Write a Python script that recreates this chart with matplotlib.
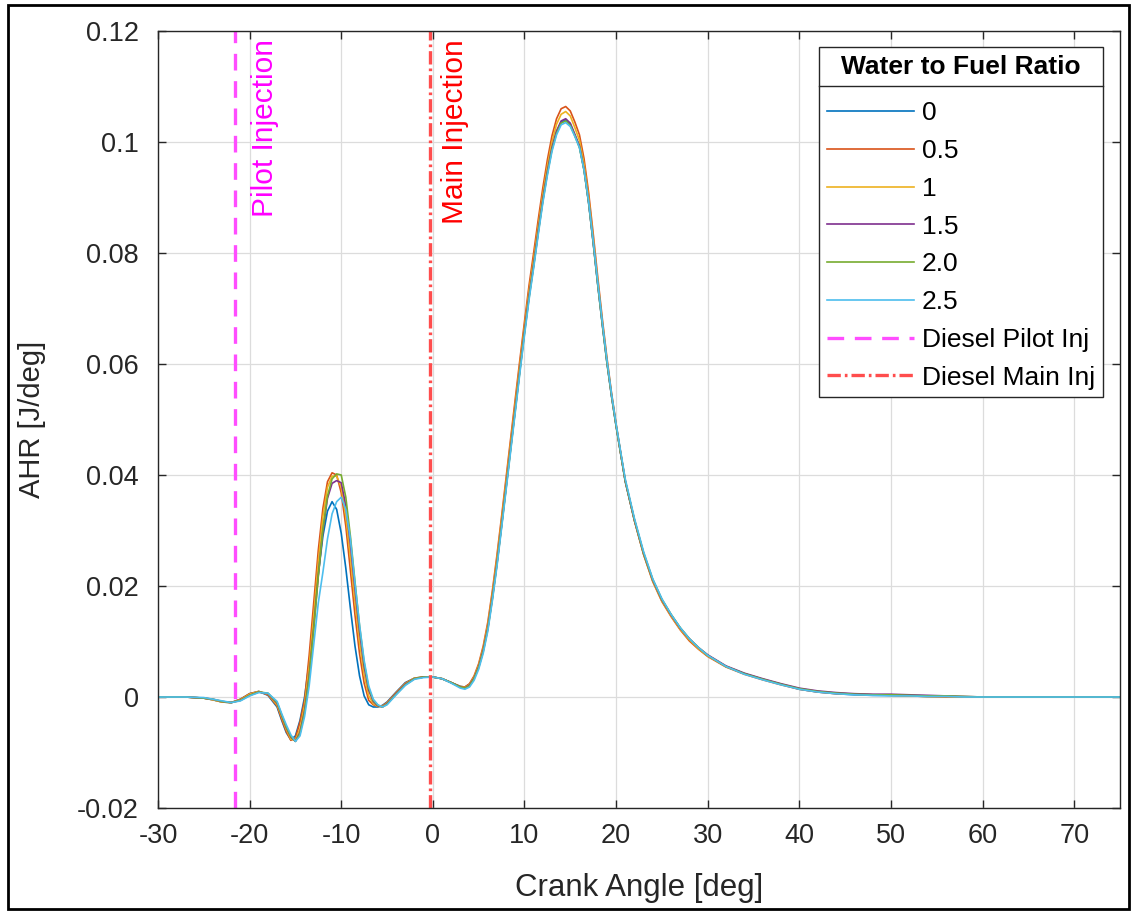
import numpy as np
import matplotlib
matplotlib.use("Agg")
import matplotlib.pyplot as plt
from matplotlib.lines import Line2D
from matplotlib.patches import Rectangle
from matplotlib.ticker import FormatStrFormatter

plt.rcParams['font.family'] = ['Liberation Sans', 'DejaVu Sans']
plt.rcParams['axes.unicode_minus'] = False

# crank angle grid shared by all curves [deg]
crank = [-30, -27, -25, -24, -23, -22, -21, -20, -19, -18, -17,
         -16.5, -16, -15.5, -15, -14.5, -14, -13.5, -13, -12.5, -12, -11.5, -11,
         -10.5, -10, -9.5, -9, -8.5, -8, -7.5, -7, -6.5, -6, -5.5, -5,
         -4, -3, -2, -1, 0, 1, 2, 3, 3.5, 4,
         4.5, 5, 5.5, 6, 6.5, 7, 7.5, 8, 8.5, 9, 9.5, 10, 10.5, 11, 11.5, 12,
         12.5, 13, 13.5, 14, 14.5, 15, 15.5, 16, 16.5, 17, 17.5, 18, 18.5, 19,
         19.5, 20, 20.5, 21,
         22, 23, 24, 25, 26, 27, 28, 29, 30,
         32, 34, 36, 38, 40, 42, 44, 46, 48, 50, 52, 54, 56, 58, 60, 75]

# apparent heat release [J/deg] for each water to fuel ratio
ahr_0 = [0, 0, -0.0002, -0.0005, -0.0009, -0.0010, -0.0004, 0.0006, 0.0010, 0.0003, -0.0018,
         -0.0042, -0.0064, -0.0077, -0.0070, -0.0042, 0.0000, 0.0062, 0.0140, 0.0222, 0.0290, 0.0335, 0.0352,
         0.0338, 0.0295, 0.0232, 0.0160, 0.0092, 0.0038, 0.0002, -0.0014, -0.0018, -0.0018, -0.0015, -0.0009,
         0.0009, 0.0026, 0.0034, 0.0036, 0.0036, 0.0033, 0.0026, 0.0019, 0.0018, 0.0023,
         0.0035, 0.0055, 0.0085, 0.0125, 0.0180, 0.0242, 0.0310, 0.0380, 0.0450, 0.0520, 0.0590, 0.0658,
         0.0722, 0.0778, 0.0838, 0.0895, 0.0945, 0.0988, 0.1018, 0.1036, 0.1040, 0.1032, 0.1012, 0.0992,
         0.0950, 0.0890, 0.0818, 0.0742, 0.0670, 0.0602, 0.0542, 0.0488, 0.0438, 0.0388,
         0.0318, 0.0258, 0.0210, 0.0175, 0.0148, 0.0124, 0.0104, 0.0088, 0.0075,
         0.0055, 0.0042, 0.0032, 0.0023, 0.0014, 0.0009, 0.0006, 0.0004, 0.0003, 0.0003, 0.0002, 0.0001,
         0.0001, 0, 0, 0]
ahr_05 = [0, 0, -0.0002, -0.0005, -0.0009, -0.0010, -0.0004, 0.0006, 0.0010, 0.0004, -0.0016,
          -0.0040, -0.0062, -0.0078, -0.0074, -0.0045, -0.0006, 0.0075, 0.0170, 0.0265, 0.0340, 0.0388, 0.0404,
          0.0400, 0.0368, 0.0308, 0.0228, 0.0148, 0.0078, 0.0025, -0.0006, -0.0014, -0.0017, -0.0016, -0.0010,
          0.0008, 0.0025, 0.0034, 0.0036, 0.0036, 0.0033, 0.0026, 0.0019, 0.0018, 0.0024,
          0.0038, 0.0060, 0.0092, 0.0135, 0.0192, 0.0256, 0.0325, 0.0396, 0.0467, 0.0538, 0.0608, 0.0676,
          0.0742, 0.0800, 0.0860, 0.0917, 0.0968, 0.1011, 0.1042, 0.1060, 0.1064, 0.1056, 0.1036, 0.1013,
          0.0970, 0.0909, 0.0835, 0.0756, 0.0681, 0.0611, 0.0548, 0.0492, 0.0440, 0.0390,
          0.0318, 0.0257, 0.0208, 0.0172, 0.0145, 0.0121, 0.0101, 0.0086, 0.0073,
          0.0054, 0.0041, 0.0031, 0.0022, 0.0014, 0.0009, 0.0006, 0.0005, 0.0004, 0.0003, 0.0002, 0.0001,
          0, 0, 0, 0]
ahr_1 = [0, 0, -0.0002, -0.0005, -0.0009, -0.0010, -0.0005, 0.0005, 0.0010, 0.0005, -0.0014,
         -0.0036, -0.0058, -0.0076, -0.0078, -0.0057, -0.0015, 0.0055, 0.0148, 0.0245, 0.0325, 0.0378, 0.0398,
         0.0398, 0.0378, 0.0325, 0.0252, 0.0172, 0.0098, 0.0040, 0.0002, -0.0012, -0.0017, -0.0017, -0.0011,
         0.0007, 0.0024, 0.0034, 0.0036, 0.0036, 0.0033, 0.0026, 0.0018, 0.0017, 0.0022,
         0.0036, 0.0057, 0.0088, 0.0130, 0.0186, 0.0249, 0.0318, 0.0388, 0.0459, 0.0529, 0.0599, 0.0667,
         0.0732, 0.0789, 0.0849, 0.0906, 0.0957, 0.1000, 0.1032, 0.1050, 0.1055, 0.1047, 0.1026, 0.1003,
         0.0960, 0.0900, 0.0827, 0.0749, 0.0676, 0.0607, 0.0545, 0.0490, 0.0439, 0.0389,
         0.0318, 0.0257, 0.0209, 0.0173, 0.0146, 0.0122, 0.0103, 0.0087, 0.0074,
         0.0055, 0.0042, 0.0032, 0.0023, 0.0015, 0.0010, 0.0007, 0.0005, 0.0004, 0.0003, 0.0002, 0.0001,
         0.0001, 0, 0, 0]
ahr_15 = [0, 0, -0.0002, -0.0004, -0.0008, -0.0010, -0.0006, 0.0003, 0.0009, 0.0006, -0.0011,
          -0.0033, -0.0055, -0.0072, -0.0080, -0.0064, -0.0025, 0.0038, 0.0125, 0.0220, 0.0300, 0.0358, 0.0385,
          0.0390, 0.0386, 0.0345, 0.0275, 0.0195, 0.0118, 0.0055, 0.0012, -0.0008, -0.0016, -0.0018, -0.0012,
          0.0006, 0.0023, 0.0033, 0.0036, 0.0036, 0.0033, 0.0026, 0.0018, 0.0016, 0.0021,
          0.0034, 0.0054, 0.0084, 0.0124, 0.0179, 0.0241, 0.0309, 0.0379, 0.0450, 0.0520, 0.0590, 0.0659,
          0.0723, 0.0780, 0.0840, 0.0897, 0.0947, 0.0990, 0.1020, 0.1038, 0.1042, 0.1034, 0.1014, 0.0993,
          0.0951, 0.0892, 0.0820, 0.0744, 0.0672, 0.0604, 0.0543, 0.0489, 0.0439, 0.0389,
          0.0319, 0.0259, 0.0211, 0.0175, 0.0148, 0.0124, 0.0105, 0.0089, 0.0076,
          0.0056, 0.0043, 0.0033, 0.0024, 0.0016, 0.0011, 0.0008, 0.0006, 0.0005, 0.0005, 0.0004, 0.0003,
          0.0002, 0.0001, 0, 0]
ahr_20 = [0, 0, -0.0002, -0.0004, -0.0008, -0.0010, -0.0006, 0.0003, 0.0009, 0.0007, -0.0010,
          -0.0032, -0.0054, -0.0071, -0.0080, -0.0066, -0.0028, 0.0035, 0.0122, 0.0218, 0.0302, 0.0362, 0.0393,
          0.0402, 0.0400, 0.0360, 0.0290, 0.0208, 0.0128, 0.0062, 0.0016, -0.0006, -0.0015, -0.0018, -0.0013,
          0.0005, 0.0022, 0.0033, 0.0036, 0.0036, 0.0033, 0.0026, 0.0018, 0.0016, 0.0020,
          0.0033, 0.0053, 0.0082, 0.0122, 0.0177, 0.0239, 0.0307, 0.0377, 0.0447, 0.0517, 0.0587, 0.0655,
          0.0719, 0.0776, 0.0836, 0.0893, 0.0943, 0.0986, 0.1016, 0.1034, 0.1038, 0.1030, 0.1011, 0.0990,
          0.0949, 0.0891, 0.0819, 0.0743, 0.0671, 0.0603, 0.0543, 0.0489, 0.0439, 0.0390,
          0.0320, 0.0260, 0.0212, 0.0176, 0.0149, 0.0125, 0.0105, 0.0089, 0.0075,
          0.0055, 0.0042, 0.0032, 0.0023, 0.0015, 0.0010, 0.0007, 0.0005, 0.0004, 0.0004, 0.0003, 0.0002,
          0.0002, 0.0001, 0, 0]
ahr_25 = [0, 0, -0.0001, -0.0004, -0.0007, -0.0010, -0.0007, 0.0002, 0.0008, 0.0007, -0.0008,
          -0.0030, -0.0050, -0.0068, -0.0080, -0.0070, -0.0035, 0.0020, 0.0095, 0.0170, 0.0225, 0.0285, 0.0330,
          0.0352, 0.0360, 0.0338, 0.0285, 0.0205, 0.0130, 0.0066, 0.0020, -0.0004, -0.0014, -0.0018, -0.0014,
          0.0004, 0.0021, 0.0032, 0.0035, 0.0036, 0.0033, 0.0025, 0.0016, 0.0014, 0.0018,
          0.0030, 0.0050, 0.0079, 0.0119, 0.0174, 0.0236, 0.0304, 0.0374, 0.0444, 0.0514, 0.0584, 0.0652,
          0.0716, 0.0773, 0.0833, 0.0890, 0.0940, 0.0983, 0.1013, 0.1031, 0.1035, 0.1028, 0.1010, 0.0990,
          0.0950, 0.0893, 0.0822, 0.0747, 0.0675, 0.0607, 0.0546, 0.0492, 0.0442, 0.0393,
          0.0322, 0.0262, 0.0213, 0.0177, 0.0149, 0.0125, 0.0105, 0.0089, 0.0075,
          0.0055, 0.0041, 0.0031, 0.0022, 0.0014, 0.0009, 0.0006, 0.0004, 0.0003, 0.0002, 0.0002, 0.0001,
          0.0001, 0, 0, 0]

series = [ahr_0, ahr_05, ahr_1, ahr_15, ahr_20, ahr_25]
labels = ['0', '0.5', '1', '1.5', '2.0', '2.5']
colors = ['#0072BD', '#D95319', '#EDB120', '#7E2F8E', '#77AC30', '#4DBEEE']

pilot_inj = -21.6
main_inj = -0.3

fig = plt.figure(figsize=(11.35, 9.13), dpi=100)
ax = fig.add_axes([0.1392, 0.115, 0.8476, 0.851])

for y, lab, c in zip(series, labels, colors):
    ax.plot(crank, y, color=c, lw=1.2, label=lab)

ax.axvline(pilot_inj, color='#FF4DFF', lw=2.4, dashes=(5, 3.2), label='Diesel Pilot Inj')
ax.axvline(main_inj, color='#FF4D4D', lw=2.4, dashes=(4, 1.2, 0.8, 1.2), label='Diesel Main Inj')

ax.text(-18.3, 0.1185, 'Pilot Injection', rotation=90, color='#FF00FF',
        fontsize=21.5, ha='center', va='top')
ax.text(2.4, 0.1185, 'Main Injection', rotation=90, color='#FF0000',
        fontsize=21.5, ha='center', va='top')

ax.set_xlim(-30, 75)
ax.set_ylim(-0.02, 0.12)
ax.set_xticks(np.arange(-30, 71, 10))
ax.set_yticks(np.arange(-0.02, 0.121, 0.02))
ax.yaxis.set_major_formatter(FormatStrFormatter('%g'))
ax.grid(True, color='#DCDCDC', lw=0.9)
ax.set_axisbelow(True)
ax.tick_params(direction='in', length=6, width=1, top=True, right=True,
               labelsize=19.5, colors='#262626')
ax.tick_params(axis='y', pad=14)
ax.tick_params(axis='x', pad=11)
for s in ax.spines.values():
    s.set_color('#262626')
    s.set_linewidth(1.0)

ax.set_xlabel('Crank Angle [deg]', fontsize=22.5, color='#262626', labelpad=17)
ax.set_ylabel('AHR [J/deg]', fontsize=21, color='#262626', labelpad=22)

leg = ax.legend(loc='upper right', bbox_to_anchor=(0.982, 0.979), borderaxespad=0,
                fontsize=19, title='Water to Fuel Ratio',
                title_fontproperties={'weight': 'bold', 'size': 19},
                handlelength=3.3, handletextpad=0.3, labelspacing=0.52,
                fancybox=False, framealpha=1, edgecolor='#262626', borderpad=0.3)
leg.get_frame().set_linewidth(1.0)
leg._legend_box.sep = 16

# line under the legend title, as in the original figure
fig.canvas.draw()
lb = leg.get_window_extent()
tb = leg.get_title().get_window_extent()
inv = fig.transFigure.inverted()
(x0, ysep), = inv.transform([(lb.x0, tb.y0 - 7)])
(x1, _), = inv.transform([(lb.x1, tb.y0 - 7)])
fig.add_artist(Line2D([x0, x1], [ysep, ysep], color='#262626', lw=1.0, transform=fig.transFigure))

# outer black frame around the figure
fig.add_artist(Rectangle((0.007, 0.004), 0.988, 0.991, fill=False, ec='black', lw=2,
                         transform=fig.transFigure))

fig.savefig('out.png', dpi=100, facecolor='white')
